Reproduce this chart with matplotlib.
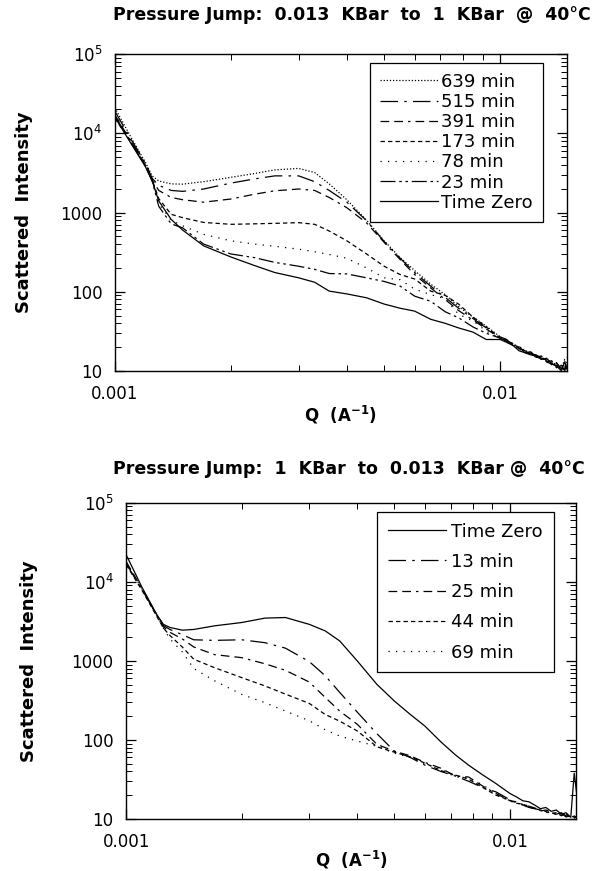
import matplotlib
matplotlib.use('Agg')
import matplotlib.pyplot as plt
from matplotlib.ticker import FixedLocator, LogLocator, NullFormatter

plt.rcParams['font.family'] = ['DejaVu Sans']
plt.rcParams['mathtext.default'] = 'regular'

# Q grid (1/A), shared by all curves
q = [0.001, 0.0011, 0.0012, 0.00125, 0.0013, 0.0014, 0.0015, 0.0017, 0.002, 0.0023,
     0.0026, 0.003, 0.0033, 0.0036, 0.004, 0.0045, 0.005, 0.0055, 0.006, 0.0066,
     0.0072, 0.0078, 0.0085, 0.0092, 0.01, 0.0104, 0.0108, 0.0112, 0.0116, 0.012,
     0.0124, 0.0128, 0.0132, 0.0136, 0.014, 0.0144, 0.0147, 0.0149]

# top panel: 0.013 -> 1 KBar
top_639 = [21000, 9000, 4300, 2900, 2500, 2300, 2280, 2450, 2780, 3100, 3450, 3600, 3200, 2300,
           1450, 800, 440, 270, 185, 125, 92, 65, 48, 37, 27, 24, 22, 20, 18, 17, 15.5, 15, 13.5,
           13, 12, 10.5, 14, 10.3]
top_515 = [19000, 8500, 4200, 2700, 2200, 1900, 1850, 1980, 2350, 2650, 2900, 2900, 2450, 1900,
           1350, 790, 430, 265, 175, 118, 85, 62, 46, 35, 27, 25, 21, 20.5, 17.5, 16.5, 16, 14.5,
           14, 12.5, 12.5, 11, 10.4, 15]
top_391 = [17000, 8000, 4000, 2600, 1900, 1550, 1450, 1350, 1480, 1700, 1880, 1980, 1900, 1550,
           1150, 740, 420, 255, 165, 112, 80, 58, 44, 34, 26, 23.5, 22.5, 19, 18.5, 16, 15, 15.5,
           13, 13.5, 11, 12, 10.2, 12]
top_173 = [15500, 7800, 3900, 2600, 1500, 950, 860, 750, 710, 720, 730, 745, 710, 585, 440, 300,
           210, 165, 145, 102, 90, 70, 48, 36, 26, 24.5, 21, 19.5, 18, 17, 15, 14.5, 13.8, 12,
           12.8, 10.3, 11.5, 10.5]
top_78 = [18000, 8200, 4000, 2600, 1300, 800, 680, 530, 440, 400, 375, 345, 320, 296, 265, 200,
          150, 142, 108, 92, 82, 52, 43, 32, 26, 23, 22, 19, 17.5, 16.5, 15.8, 14, 13.2, 12.8,
          11.2, 11.8, 10.2, 13]
top_23 = [16500, 7900, 3900, 2500, 1200, 720, 640, 400, 300, 270, 235, 210, 192, 170, 168, 150,
          135, 118, 88, 76, 56, 47, 36, 30, 26, 24, 21.5, 20, 17, 17.5, 15.2, 14.8, 13, 12.3,
          11.8, 10.6, 12.5, 10.1]
top_zero = [16000, 7500, 3800, 2500, 1400, 820, 600, 380, 275, 215, 175, 150, 132, 102, 94, 84,
            70, 62, 57, 45, 40, 35, 31, 25, 25, 23, 21, 18, 17, 16, 15.5, 14, 14.5, 12.5, 11.5,
            10.2, 13, 11]

# bottom panel: 1 -> 0.013 KBar
bot_zero = [22000, 8500, 3900, 2900, 2650, 2450, 2500, 2780, 3060, 3480, 3540, 2900, 2400, 1790,
            1000, 505, 310, 210, 150, 95, 65, 48, 36, 28, 21, 19, 17, 16.5, 15, 13.5, 14, 12.5,
            13, 11.5, 12, 10.5, 38, 22]
bot_13 = [17000, 8000, 3900, 2800, 2500, 2150, 1850, 1820, 1850, 1700, 1450, 980, 650, 400, 225,
          120, 72, 60, 48, 40, 35, 30, 25, 22, 17.5, 16, 15, 14, 13.5, 13, 12.5, 12, 11.5, 12,
          11, 10.5, 11, 10.3]
bot_25 = [18000, 8200, 3800, 2700, 2300, 1900, 1500, 1200, 1100, 920, 760, 540, 345, 232, 158,
          88, 72, 63, 52, 44, 35, 34, 26, 21, 17, 16.5, 15.2, 14.5, 13.8, 12.6, 13, 12.2, 11.4,
          11.8, 10.6, 11.2, 10.5, 10.8]
bot_44 = [16500, 7800, 3700, 2600, 2100, 1500, 1050, 820, 615, 482, 380, 290, 210, 173, 130, 82,
          70, 61, 51, 41, 36, 32, 25, 20, 17.2, 15.8, 15.5, 14.2, 13.5, 13, 12.4, 11.8, 12, 11,
          11.5, 10.4, 10.9, 10.2]
bot_69 = [17500, 8100, 3800, 2600, 1900, 1300, 800, 560, 377, 296, 232, 175, 135, 112, 97, 83,
          68, 60, 50, 43, 34, 33, 27, 20.5, 16.8, 16, 15, 14.8, 13.2, 12.8, 12, 12.3, 11.2, 11.6,
          10.8, 11, 10.3, 10.6]

dotted_fine = (0, (1, 1.5))
long_short = (0, (14, 5, 2, 5))
dash_dash_short = (0, (7, 4, 7, 4, 2, 4))
short_dash = (0, (3.5, 2.5))
sparse_dot = (0, (1, 5))
dash_dot_dot = (0, (12, 3, 2, 3, 2, 3))

fig = plt.figure(figsize=(5.98, 8.71), dpi=100)
ax1 = fig.add_axes([0.192, 0.574, 0.756, 0.364])
ax2 = fig.add_axes([0.211, 0.0597, 0.753, 0.363])

top_series = [(top_639, dotted_fine, '639 min'), (top_515, long_short, '515 min'),
              (top_391, dash_dash_short, '391 min'), (top_173, short_dash, '173 min'),
              (top_78, sparse_dot, '78 min'), (top_23, dash_dot_dot, '23 min'),
              (top_zero, '-', 'Time Zero')]
bot_series = [(bot_zero, '-', 'Time Zero'), (bot_13, long_short, '13 min'),
              (bot_25, dash_dash_short, '25 min'), (bot_44, short_dash, '44 min'),
              (bot_69, sparse_dot, '69 min')]

for ax, series in [(ax1, top_series), (ax2, bot_series)]:
    for vals, ls, lab in series:
        ax.plot(q, vals, color='black', lw=0.9, linestyle=ls, label=lab)

for ax in (ax1, ax2):
    ax.set_xscale('log')
    ax.set_yscale('log')
    ax.set_xlim(0.001, 0.0149)
    ax.set_ylim(10, 1e5)
    ax.xaxis.set_major_locator(FixedLocator([0.001, 0.01]))
    ax.set_xticklabels(['0.001', '0.01'])
    ax.xaxis.set_minor_locator(LogLocator(base=10, subs=range(2, 10)))
    ax.xaxis.set_minor_formatter(NullFormatter())
    ax.yaxis.set_major_locator(FixedLocator([10, 100, 1000, 1e4, 1e5]))
    ax.set_yticklabels(['10', '100', '1000', '$10^4$', '$10^5$'])
    ax.yaxis.set_minor_locator(LogLocator(base=10, subs=range(2, 10)))
    ax.yaxis.set_minor_formatter(NullFormatter())
    ax.tick_params(which='both', direction='in', top=True, right=True, labelsize=12)
    ax.tick_params(which='major', length=7, width=0.9)
    ax.tick_params(which='minor', length=4, width=0.7)
    ax.tick_params(axis='x', which='major', pad=10)
    ax.tick_params(axis='y', which='major', pad=9)
    for s in ax.spines.values():
        s.set_linewidth(1)
    ax.set_ylabel('Scattered  Intensity', fontsize=13, fontweight='bold')
    ax.set_xlabel('Q  (A$^{-1}$)', fontsize=12, fontweight='bold')

fig.text(352 / 598, 1 - 15 / 871, 'Pressure Jump:  0.013  KBar  to  1  KBar  @  40°C',
         fontsize=12.5, fontweight='bold', ha='center', va='center')
fig.text(349 / 598, 1 - 469 / 871, 'Pressure Jump:  1  KBar  to  0.013  KBar @  40°C',
         fontsize=12.5, fontweight='bold', ha='center', va='center')
ax1.yaxis.set_label_coords(-0.182, 0.5)
ax2.yaxis.set_label_coords(-0.196, 0.5)
ax1.xaxis.set_label_coords(0.5, -0.105)
ax2.xaxis.set_label_coords(0.5, -0.095)

leg1 = ax1.legend(loc='upper left', bbox_to_anchor=(0.564, 0.972), fontsize=13,
                  handlelength=3.2, handletextpad=0.2, labelspacing=0.12, borderpad=0.55,
                  fancybox=False, edgecolor='black', framealpha=1, borderaxespad=0)
leg2 = ax2.legend(loc='upper left', bbox_to_anchor=(0.558, 0.972), fontsize=13,
                  handlelength=3.2, handletextpad=0.3, labelspacing=0.68, borderpad=0.6,
                  fancybox=False, edgecolor='black', framealpha=1, borderaxespad=0)
for leg in (leg1, leg2):
    leg.get_frame().set_linewidth(0.9)

fig.savefig('out.png', dpi=100)
